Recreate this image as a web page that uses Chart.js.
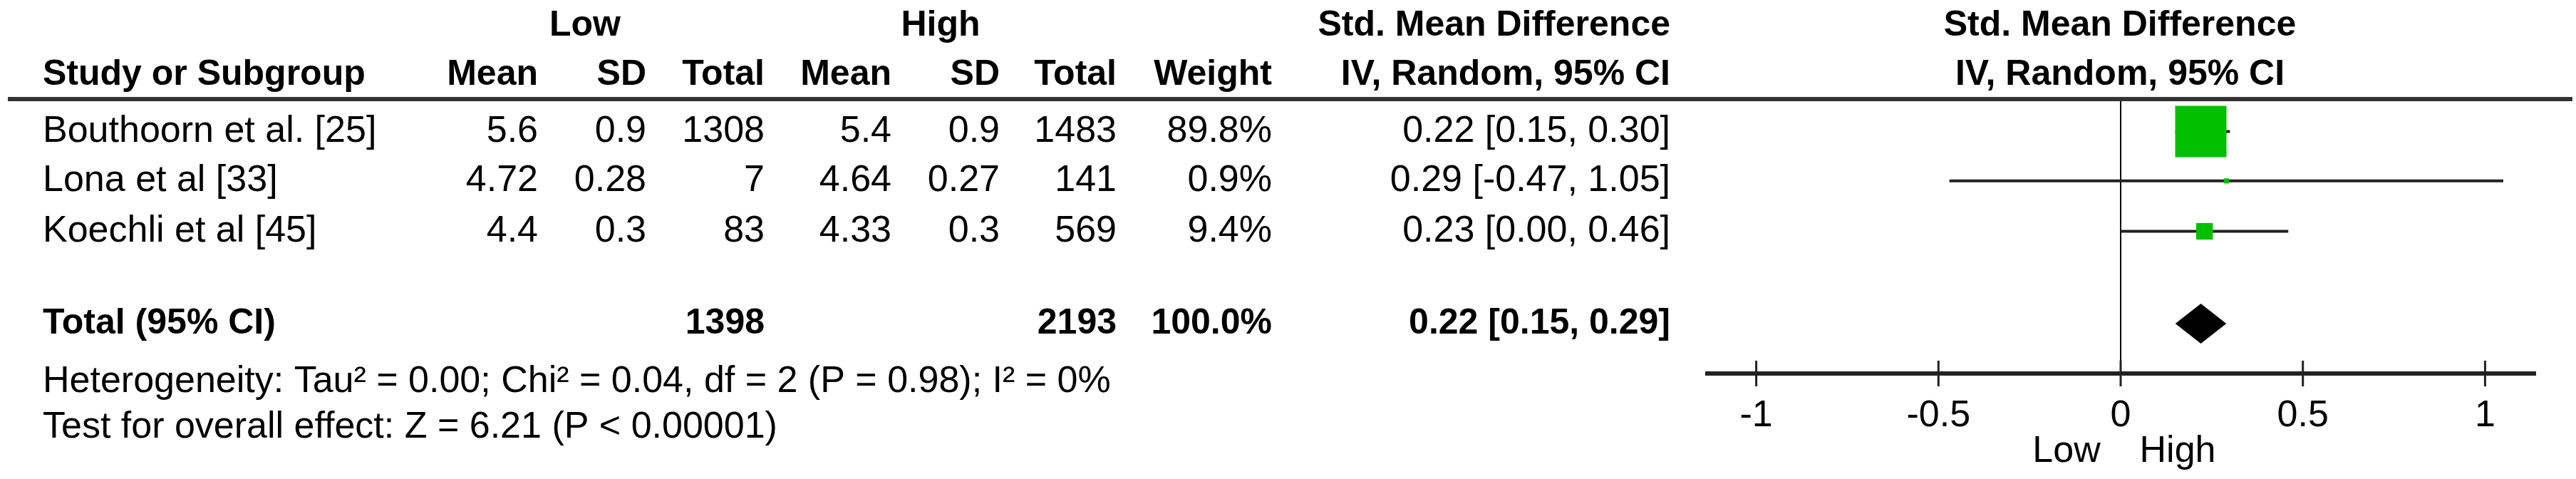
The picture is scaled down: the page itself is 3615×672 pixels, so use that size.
<!DOCTYPE html>
<html><head><meta charset="utf-8">
<script src="https://cdn.jsdelivr.net/npm/chart.js@4.4.0/dist/chart.umd.min.js"></script>
<style>html,body{margin:0;padding:0;background:#fff}#wrap{width:3615px;height:672px}</style>
</head><body><div id="wrap"><canvas id="c"></canvas></div>
<script>
const studies = ["Bouthoorn et al. [25]", "Lona et al [33]", "Koechli et al [45]"];
const lowMean = ["5.6", "4.72", "4.4"];
const lowSD = ["0.9", "0.28", "0.3"];
const lowTotal = ["1308", "7", "83"];
const highMean = ["5.4", "4.64", "4.33"];
const highSD = ["0.9", "0.27", "0.3"];
const highTotal = ["1483", "141", "569"];
const weights = [89.8, 0.9, 9.4];
const smd = [0.22, 0.29, 0.23];
const ciLow = [0.15, -0.47, 0.00];
const ciHigh = [0.30, 1.05, 0.46];
const rowPos = [0.65, 1.64, 2.65];
const totalPos = 4.5;
const totalSMD = 0.22, totalLow = 0.15, totalHigh = 0.29;
const totalLowN = "1398", totalHighN = "2193", totalWeight = "100.0%";
const xTicks = [-1, -0.5, 0, 0.5, 1];
const tickLabels = ["-1", "-0.5", "0", "0.5", "1"];

const FONT = '"Liberation Sans", Arial, sans-serif';
const GREEN = '#00c000';

const datasets = [];
studies.forEach((s, i) => {
  datasets.push({type:'line', data:[{x:ciLow[i], y:rowPos[i]}, {x:ciHigh[i], y:rowPos[i]}],
    borderColor:'#222', borderWidth:4, pointRadius:0, order:2});
});
datasets.push({type:'scatter', data: smd.map((v,i)=>({x:v, y:rowPos[i]})),
  pointStyle:'rect', backgroundColor:GREEN, borderWidth:0,
  pointRadius: weights.map(w => Math.max(2.5, Math.sqrt(w) * 7.6 / 1.414)), order:1});
datasets.push({type:'line', data:[{x:0,y:0},{x:0,y:5.5}], borderColor:'#000', borderWidth:2, pointRadius:0, order:3});

const tablePlugin = {
  id:'table',
  afterDraw(chart){
    const ctx = chart.ctx, xs = chart.scales.x, ys = chart.scales.y;
    ctx.save();
    ctx.fillStyle = '#000';
    ctx.textBaseline = 'middle';
    const reg = '52px ' + FONT, bold = 'bold 50px ' + FONT;
    function t(str, x, y, align, f){ ctx.font = f; ctx.textAlign = align; ctx.fillText(str, x, y); }
    // headers
    t('Low', 821, 36, 'center', bold);
    t('High', 1320, 36, 'center', bold);
    t('Std. Mean Difference', 2344, 36, 'right', bold);
    t('Std. Mean Difference', 2975, 36, 'center', bold);
    t('Study or Subgroup', 60, 105, 'left', bold);
    const cols = [755, 907, 1073, 1251, 1403, 1567, 1785];
    ['Mean','SD','Total','Mean','SD','Total','Weight'].forEach((h,i)=>t(h, cols[i], 105, 'right', bold));
    t('IV, Random, 95% CI', 2344, 105, 'right', bold);
    t('IV, Random, 95% CI', 2975, 105, 'center', bold);
    // header rule
    ctx.fillStyle = '#333';
    ctx.fillRect(11, 136, 3599, 6);
    ctx.fillStyle = '#000';
    // rows
    studies.forEach((s,i)=>{
      const y = ys.getPixelForValue(rowPos[i]);
      t(s, 60, y, 'left', reg);
      [lowMean[i], lowSD[i], lowTotal[i], highMean[i], highSD[i], highTotal[i], weights[i].toFixed(1)+'%']
        .forEach((v,j)=>t(v, cols[j], y, 'right', reg));
      t(smd[i].toFixed(2)+' ['+ciLow[i].toFixed(2)+', '+ciHigh[i].toFixed(2)+']', 2344, y, 'right', reg);
    });
    const ty = ys.getPixelForValue(totalPos);
    t('Total (95% CI)', 60, ty, 'left', bold);
    t(totalLowN, cols[2], ty, 'right', bold);
    t(totalHighN, cols[5], ty, 'right', bold);
    t(totalWeight, cols[6], ty, 'right', bold);
    t(totalSMD.toFixed(2)+' ['+totalLow.toFixed(2)+', '+totalHigh.toFixed(2)+']', 2344, ty, 'right', bold);
    t('Heterogeneity: Tau\u00b2 = 0.00; Chi\u00b2 = 0.04, df = 2 (P = 0.98); I\u00b2 = 0%', 60, 536, 'left', reg);
    t('Test for overall effect: Z = 6.21 (P < 0.00001)', 60, 600, 'left', reg);
    // diamond
    ctx.beginPath();
    ctx.moveTo(xs.getPixelForValue(totalLow), ty);
    ctx.lineTo(xs.getPixelForValue(totalSMD), ty - 28);
    ctx.lineTo(xs.getPixelForValue(totalHigh), ty);
    ctx.lineTo(xs.getPixelForValue(totalSMD), ty + 28);
    ctx.closePath();
    ctx.fillStyle = '#000'; ctx.fill();
    // axis
    const ab = chart.chartArea.bottom;
    ctx.fillStyle = '#222';
    ctx.fillRect(chart.chartArea.left, ab - 3, chart.chartArea.right - chart.chartArea.left, 6);
    xTicks.forEach(v => { const px = xs.getPixelForValue(v); ctx.fillRect(px - 1.5, ab - 18, 3, 36); });
    ctx.fillStyle = '#000';
    t('Low', 2900, 634, 'center', reg);
    t('High', 3056, 634, 'center', reg);
    ctx.restore();
  }
};

new Chart(document.getElementById('c'), {
  data:{datasets},
  options:{
    responsive:true, maintainAspectRatio:false, animation:false,
    layout:{padding:{left:2393, right:56, top:139, bottom:0}},
    plugins:{legend:{display:false}, tooltip:{enabled:false}},
    scales:{
      x:{type:'linear', min:-1.14, max:1.14,
        afterBuildTicks(s){ s.ticks = xTicks.map(v=>({value:v})); },
        afterFit(s){ s.height = 148; },
        grid:{display:false, drawTicks:false}, border:{display:false},
        ticks:{padding:28, color:'#000', font:{family:FONT, size:52},
          callback:(v)=>tickLabels[xTicks.indexOf(v)] ?? ''}},
      y:{type:'linear', min:0, max:5.5, reverse:true, display:false}
    }
  },
  plugins:[tablePlugin]
});
</script></body></html>
